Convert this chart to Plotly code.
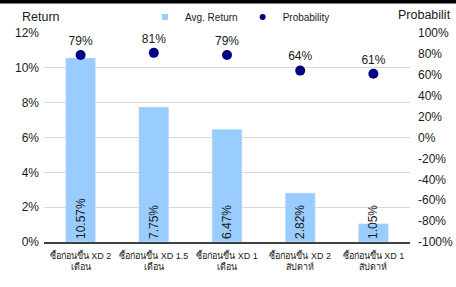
import plotly.graph_objects as go

categories = ["ซื้อก่อนขึ้น XD 2<br>เดือน", "ซื้อก่อนขึ้น XD 1.5<br>เดือน",
              "ซื้อก่อนขึ้น XD 1<br>เดือน", "ซื้อก่อนขึ้น XD 2<br>สัปดาห์",
              "ซื้อก่อนขึ้น XD 1<br>สัปดาห์"]
avg_return = [10.57, 7.75, 6.47, 2.82, 1.05]
probability = [79, 81, 79, 64, 61]
left_ticks = [0, 2, 4, 6, 8, 10, 12]
right_ticks = [-100, -80, -60, -40, -20, 0, 20, 40, 60, 80, 100]

FONT = "Arial, Liberation Sans, sans-serif"
BAR_C = "#99CCFF"
DOT_C = "#000080"
H = 209.0  # plot height px

fig = go.Figure()
fig.add_trace(go.Bar(
    x=categories, y=avg_return, name="Avg. Return", showlegend=False,
    marker_color=BAR_C, width=0.41,
    text=[f"{v:.2f}%" for v in avg_return], textposition="inside",
    insidetextanchor="start", textangle=-90,
    textfont=dict(size=12, color="#1a1a1a", family=FONT),
    cliponaxis=False,
))
fig.add_trace(go.Scatter(
    x=categories, y=probability, name="Probability", yaxis="y2", showlegend=False,
    mode="markers+text", marker=dict(color=DOT_C, size=10),
    text=[f"{v}%" for v in probability], textposition="top center",
    textfont=dict(size=12, color="#1a1a1a", family=FONT),
    cliponaxis=False,
))
# legend entries
fig.add_trace(go.Scatter(x=[None], y=[None], mode="markers", name="Avg. Return",
                         marker=dict(symbol="square", color=BAR_C, size=6)))
fig.add_trace(go.Scatter(x=[None], y=[None], mode="markers", name="Probability",
                         marker=dict(symbol="circle", color=DOT_C, size=6)))

fig.update_layout(
    width=456, height=287,
    margin=dict(l=44, r=46, t=33, b=45, autoexpand=False),
    paper_bgcolor="white", plot_bgcolor="white",
    font=dict(family=FONT, size=12, color="#1a1a1a"),
    showlegend=True,
    uniformtext=dict(minsize=12, mode="show"),
    legend=dict(orientation="h", x=(240 - 44) / 366, xanchor="center", y=1 + 16 / H,
                yanchor="middle",
                font=dict(size=10, family=FONT, color="#1a1a1a"), itemwidth=30,
                bgcolor="rgba(0,0,0,0)", itemsizing="trace"),
    bargap=0.5,
    xaxis=dict(showline=True, linecolor="#404040", linewidth=1.5, ticks="",
               tickangle=0, automargin=False, ticklabelstandoff=4,
               tickfont=dict(size=9, family=FONT), showgrid=False),
    yaxis=dict(range=[0, 12], tickvals=left_ticks, automargin=False,
               ticktext=[f"{v}%" for v in left_ticks], ticklabelstandoff=4,
               showgrid=True, gridcolor="#D9D9D9", zeroline=False,
               tickfont=dict(size=12, family=FONT), ticks="", showline=False),
    yaxis2=dict(range=[-100, 100], tickvals=right_ticks, automargin=False,
                ticktext=[f"{v}%" for v in right_ticks], ticklabelstandoff=7,
                overlaying="y", side="right", showgrid=False, zeroline=False,
                tickfont=dict(size=12, family=FONT), ticks=""),
    annotations=[
        dict(text="Return", xref="paper", yref="paper", x=(20 - 44) / 366, y=1 + 16 / H,
             xanchor="left", yanchor="middle", showarrow=False,
             font=dict(size=12.5, family=FONT)),
        dict(text="Probabilit", xref="paper", yref="paper", x=(453 - 44) / 366, y=1 + 18 / H,
             xanchor="right", yanchor="middle", showarrow=False,
             font=dict(size=12.5, family=FONT)),
    ],
    shapes=[dict(type="rect", xref="paper", yref="paper", x0=-0.2, x1=1.2,
                 y0=1 + 29.5 / H, y1=1 + 33 / H, fillcolor="black", line_width=0,
                 layer="above")],
)

fig.write_html("out.html", config={"displayModeBar": False},
               post_script="document.body.style.margin='0';")
